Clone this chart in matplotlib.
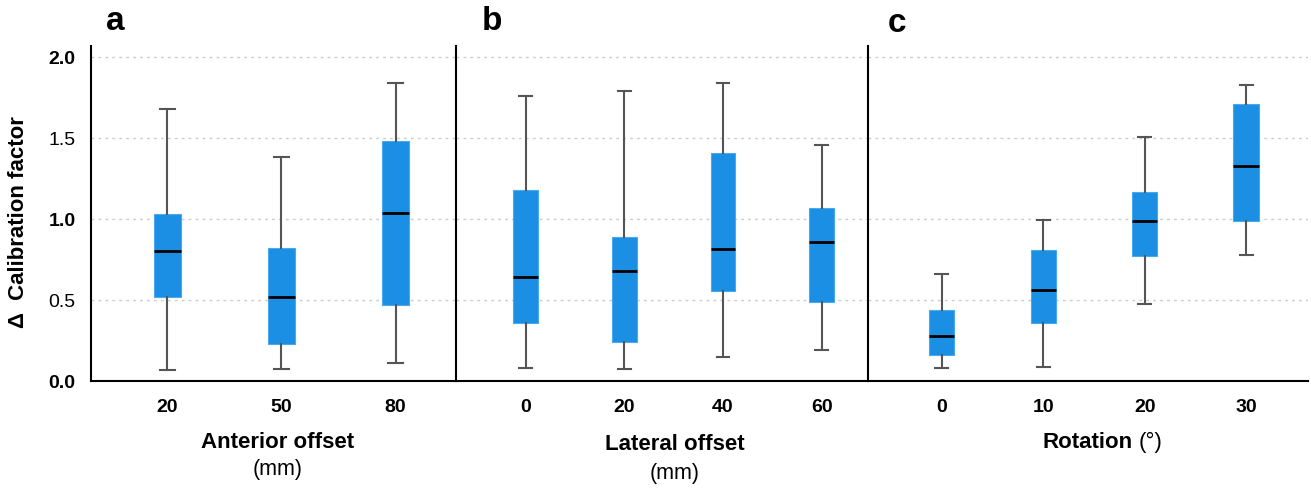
import matplotlib.pyplot as plt
import numpy as np

plt.rcParams['font.family'] = ['Liberation Sans', 'DejaVu Sans']

# box stats: whisker low, q1, median, q3, whisker high
anterior_labels = ['20', '50', '80']
anterior_low = [0.07, 0.074, 0.11]
anterior_q1 = [0.52, 0.226, 0.47]
anterior_med = [0.80, 0.52, 1.04]
anterior_q3 = [1.03, 0.82, 1.48]
anterior_high = [1.68, 1.385, 1.84]

lateral_labels = ['0', '20', '40', '60']
lateral_low = [0.08, 0.073, 0.15, 0.19]
lateral_q1 = [0.355, 0.24, 0.555, 0.485]
lateral_med = [0.64, 0.676, 0.817, 0.86]
lateral_q3 = [1.18, 0.89, 1.41, 1.07]
lateral_high = [1.76, 1.79, 1.84, 1.455]

rotation_labels = ['0', '10', '20', '30']
rotation_low = [0.08, 0.085, 0.475, 0.78]
rotation_q1 = [0.16, 0.355, 0.77, 0.99]
rotation_med = [0.275, 0.56, 0.99, 1.33]
rotation_q3 = [0.44, 0.81, 1.165, 1.71]
rotation_high = [0.66, 0.995, 1.505, 1.83]

blue = '#1a8fe3'

fig = plt.figure(figsize=(13.11, 4.88), dpi=100)
W, H = 1311, 488

def make_ax(x0, x1):
    # pixel coords -> figure fraction (top at 46, bottom at 381)
    return fig.add_axes([x0 / W, 1 - 381 / H, (x1 - x0) / W, (381 - 46) / H])

def draw(ax, labels, low, q1, med, q3, high, xlim, width):
    stats = []
    for i in range(len(labels)):
        stats.append({'whislo': low[i], 'q1': q1[i], 'med': med[i],
                      'q3': q3[i], 'whishi': high[i], 'fliers': []})
    pos = np.arange(len(labels))
    ax.bxp(stats, positions=pos, widths=width, patch_artist=True,
           showfliers=False,
           boxprops=dict(facecolor=blue, edgecolor='#4aa8ee', linewidth=0.8),
           medianprops=dict(color='black', linewidth=2),
           whiskerprops=dict(color='#555555', linewidth=1.5),
           capprops=dict(color='#555555', linewidth=1.5),
           capwidths=0.13)
    ax.set_xlim(*xlim)
    ax.set_ylim(0, 2.068)
    ax.set_xticks(pos)
    ax.set_xticklabels(labels, fontsize=14, fontweight='bold')
    ax.tick_params(axis='x', length=0, pad=13)
    ax.set_yticks([0, 0.5, 1.0, 1.5, 2.0])
    ax.yaxis.grid(True, linestyle=(0, (2, 3)), color='#cccccc', linewidth=1)
    ax.set_axisbelow(True)
    for s in ['top', 'right']:
        ax.spines[s].set_visible(False)
    ax.spines['left'].set_linewidth(1.5)
    ax.spines['bottom'].set_linewidth(1.5)

ax1 = make_ax(91, 456)
draw(ax1, anterior_labels, anterior_low, anterior_q1, anterior_med,
     anterior_q3, anterior_high, (-0.67, 2.53), 0.243)
ax1.tick_params(axis='y', length=0, pad=11)
ax1.set_yticklabels(['0.0', '0.5', '1.0', '1.5', '2.0'], fontsize=14)
for lab, w in zip(ax1.get_yticklabels(), ['bold', 'normal', 'bold', 'normal', 'bold']):
    lab.set_fontweight(w)

ax2 = make_ax(456, 868)
draw(ax2, lateral_labels, lateral_low, lateral_q1, lateral_med,
     lateral_q3, lateral_high, (-0.706, 3.47), 0.25)
ax2.tick_params(axis='y', length=0, labelleft=False)

ax3 = make_ax(868, 1308)
draw(ax3, rotation_labels, rotation_low, rotation_q1, rotation_med,
     rotation_q3, rotation_high, (-0.727, 3.61), 0.25)
ax3.tick_params(axis='y', length=0, labelleft=False)

# panel letters
fig.text(115 / W, 1 - 22 / H, 'a', fontsize=24, fontweight='bold', ha='center', va='center')
fig.text(492 / W, 1 - 21 / H, 'b', fontsize=24, fontweight='bold', ha='center', va='center')
fig.text(897 / W, 1 - 23 / H, 'c', fontsize=24, fontweight='bold', ha='center', va='center')

# axis titles
fig.text(278 / W, 1 - 443 / H, 'Anterior offset', fontsize=16, fontweight='bold', ha='center', va='center')
fig.text(278 / W, 1 - 470 / H, '(mm)', fontsize=15.5, ha='center', va='center')
fig.text(675 / W, 1 - 445 / H, 'Lateral offset', fontsize=16, fontweight='bold', ha='center', va='center')
fig.text(675 / W, 1 - 473 / H, '(mm)', fontsize=15.5, ha='center', va='center')
fig.text(1088 / W, 1 - 442 / H, 'Rotation', fontsize=16, fontweight='bold', ha='center', va='center')
fig.text(1151 / W, 1 - 442 / H, '(°)', fontsize=16, ha='center', va='center')

fig.text(19 / W, 1 - 222 / H, 'Δ  Calibration factor', fontsize=16, fontweight='bold',
         rotation=90, ha='center', va='center')

fig.savefig('out.png', dpi=100)
